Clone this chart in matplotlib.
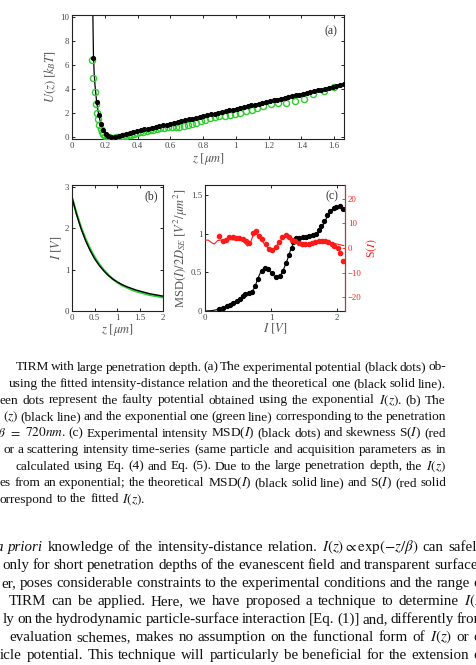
import matplotlib
matplotlib.use("Agg")
import matplotlib.pyplot as plt
import numpy as np

# ---------------- data ----------------
# panel (a): potential U(z) [kBT]
za_blk = [0.130, 0.150, 0.165, 0.178, 0.190, 0.205, 0.220, 0.240, 0.262, 0.285, 0.307, 0.330,
          0.352, 0.375, 0.397, 0.420, 0.442, 0.465, 0.487, 0.510, 0.532, 0.555, 0.577, 0.600,
          0.622, 0.645, 0.667, 0.690, 0.712, 0.735, 0.757, 0.780, 0.802, 0.825, 0.847, 0.870,
          0.892, 0.915, 0.937, 0.960, 0.982, 1.005, 1.027, 1.050, 1.072, 1.095, 1.117, 1.140,
          1.162, 1.185, 1.207, 1.230, 1.252, 1.275, 1.297, 1.320, 1.342, 1.365, 1.387, 1.410,
          1.432, 1.455, 1.477, 1.500, 1.522, 1.545, 1.567, 1.590, 1.612, 1.635, 1.657]
Ua_blk = [6.60, 2.90, 1.85, 1.10, 0.62, 0.28, 0.08, 0.02, 0.05, 0.12, 0.20, 0.28,
          0.36, 0.44, 0.51, 0.58, 0.65, 0.72, 0.79, 0.86, 0.93, 1.00, 1.06, 1.13,
          1.20, 1.27, 1.34, 1.41, 1.48, 1.55, 1.62, 1.69, 1.76, 1.83, 1.90, 1.96,
          2.03, 2.10, 2.17, 2.24, 2.31, 2.38, 2.44, 2.51, 2.58, 2.65, 2.72, 2.79,
          2.86, 2.93, 3.00, 3.07, 3.14, 3.21, 3.28, 3.35, 3.42, 3.49, 3.56, 3.63,
          3.70, 3.77, 3.84, 3.91, 3.98, 4.05, 4.12, 4.19, 4.26, 4.33, 4.40]
za_grn = [0.120, 0.130, 0.138, 0.146, 0.153, 0.160, 0.167, 0.175, 0.183, 0.192, 0.202, 0.213,
          0.225, 0.238, 0.252, 0.266, 0.281, 0.296, 0.312, 0.328, 0.345, 0.362, 0.380, 0.398,
          0.417, 0.436, 0.456, 0.476, 0.497, 0.518, 0.540, 0.562, 0.585, 0.608, 0.632, 0.656,
          0.681, 0.706, 0.732, 0.758, 0.785, 0.813, 0.841, 0.870, 0.900, 0.931, 0.962, 0.994,
          1.027, 1.061, 1.096, 1.132, 1.168, 1.213, 1.256, 1.307, 1.358, 1.413, 1.470, 1.535,
          1.600]
Ua_grn = [6.45, 4.90, 3.75, 2.75, 2.05, 1.50, 1.05, 0.70, 0.45, 0.25, 0.10, 0.02,
          -0.02, -0.04, -0.04, -0.02, 0.01, 0.04, 0.08, 0.12, 0.17, 0.22, 0.28, 0.34,
          0.40, 0.46, 0.52, 0.58, 0.64, 0.69, 0.74, 0.78, 0.81, 0.84, 0.86, 0.89,
          0.93, 1.00, 1.10, 1.22, 1.35, 1.47, 1.57, 1.65, 1.73, 1.81, 1.89, 1.97,
          2.06, 2.15, 2.26, 2.40, 2.64, 2.77, 2.86, 2.88, 3.06, 3.22, 3.60, 3.88,
          4.18]
za_th = [0.127, 0.131, 0.135, 0.140, 0.150, 0.160, 0.170, 0.180, 0.190, 0.200, 0.210, 0.220,
         0.235, 0.250, 0.270, 0.300, 0.350, 0.400, 0.500, 0.600, 0.800, 1.000, 1.200, 1.400,
         1.600, 1.660]
Ua_th = [10.5, 6.80, 5.40, 4.40, 3.00, 2.10, 1.45, 0.98, 0.63, 0.38, 0.20, 0.09,
         0.03, 0.02, 0.06, 0.17, 0.35, 0.52, 0.84, 1.14, 1.76, 2.38, 3.00, 3.63,
         4.26, 4.44]

# panel (b): intensity-distance relation
zb = [0.0, 0.1, 0.2, 0.3, 0.4, 0.5, 0.6, 0.7, 0.8, 0.9, 1.0,
      1.1, 1.2, 1.3, 1.4, 1.5, 1.6, 1.7, 1.8, 1.9, 2.0]
Ib_fit = [2.75, 2.34, 1.99, 1.70, 1.46, 1.26, 1.10, 0.97, 0.86, 0.77, 0.70,
          0.64, 0.59, 0.55, 0.51, 0.48, 0.45, 0.42, 0.40, 0.38, 0.36]
Ib_exp = [2.75, 2.36, 2.02, 1.74, 1.50, 1.30, 1.13, 0.99, 0.87, 0.77, 0.69,
          0.62, 0.57, 0.52, 0.48, 0.45, 0.42, 0.39, 0.37, 0.35, 0.33]

# panel (c): MSD(I) and skewness S(I)
Ic_msd = [0.21, 0.27, 0.33, 0.38, 0.43, 0.48, 0.53, 0.57, 0.61, 0.66, 0.71, 0.76, 0.81, 0.86,
          0.91, 0.96, 1.02, 1.08, 1.13, 1.18, 1.23, 1.27, 1.31, 1.34, 1.38, 1.43, 1.48, 1.53,
          1.58, 1.63, 1.68, 1.72, 1.76, 1.80, 1.85, 1.90, 1.95, 1.99, 2.04, 2.09]
msd_dots = [0.02, 0.04, 0.06, 0.08, 0.10, 0.13, 0.16, 0.19, 0.22, 0.23, 0.25, 0.32, 0.42, 0.52,
            0.56, 0.54, 0.49, 0.44, 0.45, 0.52, 0.62, 0.72, 0.82, 0.89, 0.94, 0.95, 0.96, 0.96,
            0.97, 0.98, 1.00, 1.05, 1.10, 1.16, 1.24, 1.30, 1.33, 1.35, 1.36, 1.32]
Ic_line = [0.00, 0.10, 0.20, 0.30, 0.40, 0.50, 0.55, 0.60, 0.65, 0.70, 0.75, 0.80, 0.85, 0.90,
           0.95, 1.00, 1.05, 1.10, 1.15, 1.20, 1.25, 1.30, 1.35, 1.40, 1.50, 1.60, 1.70, 1.75,
           1.80, 1.85, 1.90, 1.95, 2.00, 2.05, 2.10]
msd_line = [0.000, 0.005, 0.020, 0.050, 0.090, 0.140, 0.170, 0.205, 0.225, 0.240, 0.300, 0.420,
            0.520, 0.555, 0.540, 0.495, 0.450, 0.430, 0.470, 0.560, 0.670, 0.800, 0.900, 0.940,
            0.960, 0.970, 1.000, 1.060, 1.130, 1.220, 1.290, 1.320, 1.350, 1.350, 1.310]
Ic_skw = [0.21, 0.27, 0.32, 0.37, 0.42, 0.47, 0.52, 0.57, 0.62, 0.67, 0.72, 0.77, 0.82, 0.87,
          0.92, 0.97, 1.02, 1.07, 1.12, 1.17, 1.22, 1.27, 1.32, 1.37, 1.42, 1.47, 1.52, 1.57,
          1.62, 1.67, 1.72, 1.77, 1.82, 1.87, 1.92, 1.96, 2.01, 2.04, 2.09]
skw_dots = [4.9, 3.0, 3.2, 4.3, 4.3, 4.2, 3.9, 3.5, 2.8, 2.0, 6.0, 7.0, 5.0, 3.5,
            1.5, -0.3, -0.8, 0.5, 2.5, 4.3, 5.3, 4.5, 3.4, 2.7, 2.2, 1.8, 1.7, 1.7,
            1.9, 2.3, 2.7, 2.9, 2.8, 2.5, 1.6, 1.0, 0.2, -1.9, -5.3]
Ic_skl = [0.00, 0.05, 0.10, 0.14, 0.19, 0.25, 0.35, 0.45, 0.55, 0.60, 0.64, 0.68, 0.72, 0.76,
          0.80, 0.85, 0.90, 0.95, 1.00, 1.05, 1.10, 1.15, 1.20, 1.25, 1.30, 1.40, 1.50, 1.60,
          1.70, 1.80, 1.90, 2.00, 2.10]
skw_line = [3.2, 3.2, 2.2, 1.6, 3.0, 3.3, 3.4, 3.3, 3.0, 2.2, 0.8, 1.5, 4.6, 6.0,
            5.2, 3.4, 1.6, 0.2, -0.5, -0.2, 1.4, 3.2, 4.6, 4.8, 4.0, 2.6, 1.9, 1.9,
            2.2, 2.4, 2.2, 1.6, 1.0]

caption_lines = [
    "TIRM with large penetration depth. (a) The experimental potential (black dots) ob-",
    "using the fitted intensity-distance relation and the theoretical one (black solid line).",
    "een dots represent the faulty potential obtained using the exponential $I(z)$. (b) The",
    "$(z)$ (black line) and the exponential one (green line) corresponding to the penetration",
    "$\\beta$ $=$ $720nm$. (c) Experimental intensity MSD($I$) (black dots) and skewness S($I$) (red",
    "or a scattering intensity time-series (same particle and acquisition parameters as in",
    "calculated using Eq. (4) and Eq. (5). Due to the large penetration depth, the $I(z)$",
    "es from an exponential; the theoretical MSD($I$) (black solid line) and S($I$) (red solid",
    "orrespond to the fitted $I(z)$.",
]
body_lines = [
    "*a *priori knowledge of the intensity-distance relation. $I(z)\\propto\\exp(-z/\\beta)$ can safely",
    "only for short penetration depths of the evanescent field and transparent surfaces",
    "er, poses considerable constraints to the experimental conditions and the range of",
    "TIRM can be applied. Here, we have proposed a technique to determine $I(z)$",
    "ly on the hydrodynamic particle-surface interaction [Eq. (1)] and, differently from",
    "evaluation schemes, makes no assumption on the functional form of $I(z)$ or of",
    "icle potential. This technique will particularly be beneficial for the extension of",
]

# ---------------- style ----------------
plt.rcParams['font.family'] = ['Liberation Serif', 'DejaVu Serif']
plt.rcParams['mathtext.fontset'] = 'stix'
W, H = 477, 665
fig = plt.figure(figsize=(W / 100, H / 100), dpi=100)

GREEN = '#2ecc2e'
RED = '#ff1a1a'
TICKC = '#444444'
LABC = '#555555'


def style_ax(ax, right=True):
    ax.tick_params(direction='in', length=2.5, width=0.6, labelsize=6.3, colors='black',
                   labelcolor=TICKC, top=True, right=right, pad=2)
    for s in ax.spines.values():
        s.set_linewidth(0.8)
        s.set_color('#222222')


def px_axes(l, t, r, b):
    return fig.add_axes([l / W, 1 - b / H, (r - l) / W, (b - t) / H])


# panel (a)
axa = px_axes(72, 15, 344, 139)
axa.plot(za_th, Ua_th, color='black', lw=0.9, zorder=2)
axa.plot(za_grn, Ua_grn, 'o', mfc='none', mec=GREEN, ms=4.4, mew=1.0, zorder=3)
axa.plot(za_blk, Ua_blk, 'o', color='black', ms=2.7, zorder=4)
axa.set_xlim(0, 1.66)
axa.set_ylim(-0.15, 10.2)
axa.set_xticks([0, 0.2, 0.4, 0.6, 0.8, 1, 1.2, 1.4, 1.6])
axa.set_xticklabels(['0', '0.2', '0.4', '0.6', '0.8', '1', '1.2', '1.4', '1.6'])
axa.set_yticks([0, 2, 4, 6, 8, 10])
style_ax(axa)
axa.set_xlabel('$z\\ [\\mu m]$', fontsize=9, color=LABC, labelpad=1)
axa.set_ylabel('$U(z)\\ [k_BT]$', fontsize=9, color=LABC, labelpad=1.5)
axa.text(0.975, 0.92, '(a)', transform=axa.transAxes, ha='right', va='top', fontsize=8.5, color='#333333')

# panel (b)
axb = px_axes(72, 185, 163, 311)
axb.plot(zb, Ib_exp, color=GREEN, lw=1.6)
axb.plot(zb, Ib_fit, color='black', lw=1.0)
axb.set_xlim(0, 2)
axb.set_ylim(0, 3.05)
axb.set_xticks([0, 0.5, 1, 1.5, 2])
axb.set_xticklabels(['0', '0.5', '1', '1.5', '2'])
axb.set_yticks([0, 1, 2, 3])
style_ax(axb)
axb.set_xlabel('$z\\ [\\mu m]$', fontsize=9, color=LABC, labelpad=0)
axb.set_ylabel('$I\\ [V]$', fontsize=9, color=LABC, labelpad=0.5)
axb.text(0.95, 0.96, '(b)', transform=axb.transAxes, ha='right', va='top', fontsize=8.5, color='#333333')

# panel (c)
axc = px_axes(205, 185, 345, 311)
axc.plot(Ic_line, msd_line, color='black', lw=0.8, zorder=2)
axc.plot(Ic_msd, msd_dots, 'o', color='black', ms=2.8, zorder=3)
axc.set_xlim(0, 2.12)
axc.set_ylim(0, 1.63)
axc.set_xticks([0, 1, 2])
axc.set_yticks([0, 0.5, 1, 1.5])
axc.set_yticklabels(['0', '0.5', '1', '1.5'])
style_ax(axc, right=False)
axc.set_xlabel('$I\\ [V]$', fontsize=9, color=LABC, labelpad=0)
axc.set_ylabel('MSD$(I)/2D_{SE}\\ [V^2/\\mu m^2]$', fontsize=9, color=LABC, labelpad=0.5)
axc.text(0.955, 0.96, '(c)', transform=axc.transAxes, ha='right', va='top', fontsize=8.5, color='#333333')

axr = axc.twinx()
axr.plot(Ic_skl, skw_line, color=RED, lw=0.8, zorder=2)
axr.plot(Ic_skw, skw_dots, 'o', color=RED, ms=3.0, zorder=3)
axr.set_ylim(-25.6, 25.6)
axr.set_yticks([-20, -10, 0, 10, 20])
axr.set_yticklabels(['\u221220', '\u221210', '0', '10', '20'])
axr.tick_params(direction='in', length=2.5, width=0.6, labelsize=6.3, colors=RED,
                labelcolor=RED, pad=2)
for s in axr.spines.values():
    s.set_linewidth(0.8)
axr.spines['right'].set_color(RED)
axr.spines['left'].set_visible(False)
axr.spines['top'].set_visible(False)
axr.spines['bottom'].set_visible(False)
axr.set_ylabel('S$(I)$', fontsize=8.5, color=RED, labelpad=2)

# ---------------- text ----------------
fig.canvas.draw()
renderer = fig.canvas.get_renderer()


def place_line(line, x0, x1, ybase, fs, justify=True):
    words = line.split(' ')
    arts = []
    for w in words:
        style = 'normal'
        if w.startswith('*'):
            w = w[1:]
            style = 'italic'
        t = fig.text(0.5, 0.5, w, fontsize=fs, style=style, va='baseline', ha='left', color='#111111')
        arts.append(t)
    widths = [a.get_window_extent(renderer).width for a in arts]
    h1 = fig.text(0.5, 0.5, 'a a', fontsize=fs)
    h2 = fig.text(0.5, 0.5, 'aa', fontsize=fs)
    sp = h1.get_window_extent(renderer).width - h2.get_window_extent(renderer).width
    h1.remove()
    h2.remove()
    if justify and len(words) > 1:
        gap = (x1 - x0 - sum(widths)) / (len(words) - 1)
    else:
        gap = sp
    x = x0
    for a, w in zip(arts, widths):
        a.set_position((x / W, 1 - ybase / H))
        x += w + gap


cap_x0 = [16, 9, 0, 3, -3, 3, 16, 0, 0]
cap_base = [370.5, 387.0, 403.5, 420.0, 436.5, 453.0, 469.5, 486.0, 502.5]
for i, (ln, x0, yb) in enumerate(zip(caption_lines, cap_x0, cap_base)):
    place_line(ln, x0, 446, yb, 9.6, justify=(i < len(caption_lines) - 1))

body_x0 = [-4, 2, 1, 9, 3, 9, 0]
body_x1 = [484, 484, 486, 486, 486, 486, 486]
body_base = [551, 569, 587, 605, 623, 641, 659]
for ln, x0, x1, yb in zip(body_lines, body_x0, body_x1, body_base):
    place_line(ln, x0, x1, yb, 10.8)

fig.savefig('out.png', dpi=100)
